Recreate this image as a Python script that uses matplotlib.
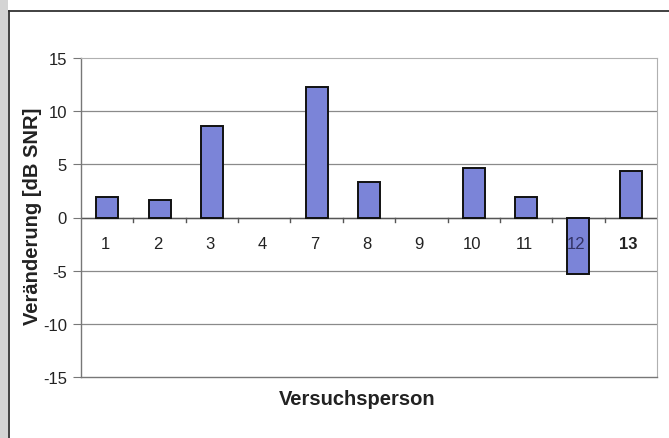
import matplotlib
matplotlib.use("Agg")
import matplotlib.pyplot as plt
from matplotlib.patches import Rectangle
from matplotlib.lines import Line2D
import numpy as np

plt.rcParams['font.family'] = ['Liberation Sans', 'DejaVu Sans']

categories = ["1", "2", "3", "4", "7", "8", "9", "10", "11", "12", "13"]
values = [1.9, 1.6, 8.65, 0.0, 12.3, 3.3, 0.0, 4.7, 1.95, -5.3, 4.4]
yticks = [-15, -10, -5, 0, 5, 10, 15]

W, H = 669, 439
fig = plt.figure(figsize=(W / 100, H / 100), dpi=100)
fig.patch.set_facecolor('white')

# scan-like left strip and frame
fig.patches.append(Rectangle((0, 0), 8 / W, 1, transform=fig.transFigure,
                             facecolor='#d4d4d4', edgecolor='none', zorder=0))
fig.lines.append(Line2D([8.5 / W, 8.5 / W], [0, 1 - 12 / H], transform=fig.transFigure,
                        color='#333333', lw=1.3))
fig.lines.append(Line2D([8.5 / W, 1], [1 - 12 / H, 1 - 12 / H], transform=fig.transFigure,
                        color='#333333', lw=1.3))

x0, x1 = 81, 657
y0, y1 = 59, 378
ax = fig.add_axes([x0 / W, 1 - y1 / H, (x1 - x0) / W, (y1 - y0) / H])
n = len(categories)
x = np.arange(n)
ax.set_xlim(-0.5, n - 0.5)
ax.set_ylim(-15, 15)

for yt in yticks:
    if yt in (-15, 15):
        continue
    ax.axhline(yt, color='#8a8a8a', lw=0.9, zorder=1)

bars = ax.bar(x, values, width=0.42, color='#7b84d8', edgecolor='#111111', linewidth=1.4, zorder=3)
for b, v in zip(bars, values):
    if v == 0:
        b.set_linewidth(0)

# zero axis line with category-boundary ticks
ax.axhline(0, color='#555555', lw=1.0, zorder=2)
for b in np.arange(-0.5, n, 1.0)[1:-1]:
    ax.plot([b, b], [0, -0.4], color='#555555', lw=1.0, zorder=2, clip_on=False)

for i, c in enumerate(categories):
    ax.text(i - 0.04, -2.4, c, ha='center', va='center', fontsize=12,
            color='#333366' if c == "12" else '#222222',
            fontweight='bold' if c == "13" else 'normal', zorder=4)

ax.set_xticks([])
ax.set_yticks(yticks)
ax.set_yticklabels([str(v) for v in yticks], fontsize=12, color='#222222')
ax.tick_params(axis='y', length=6, color='#777777', pad=4)

for side in ['top', 'right']:
    ax.spines[side].set_color('#b0b0b0')
    ax.spines[side].set_linewidth(0.8)
ax.spines['left'].set_color('#777777')
ax.spines['bottom'].set_color('#777777')
ax.spines['left'].set_linewidth(1.0)
ax.spines['bottom'].set_linewidth(1.0)

fig.text(33 / W, 1 - 216 / H, "Veränderung [dB SNR]", rotation=90, ha='center', va='center',
         fontsize=14.5, fontweight='bold', color='#222222')
fig.text(357 / W, 1 - 400 / H, "Versuchsperson", ha='center', va='center',
         fontsize=14.5, fontweight='bold', color='#222222')

fig.savefig("out.png", dpi=100, facecolor='white')
